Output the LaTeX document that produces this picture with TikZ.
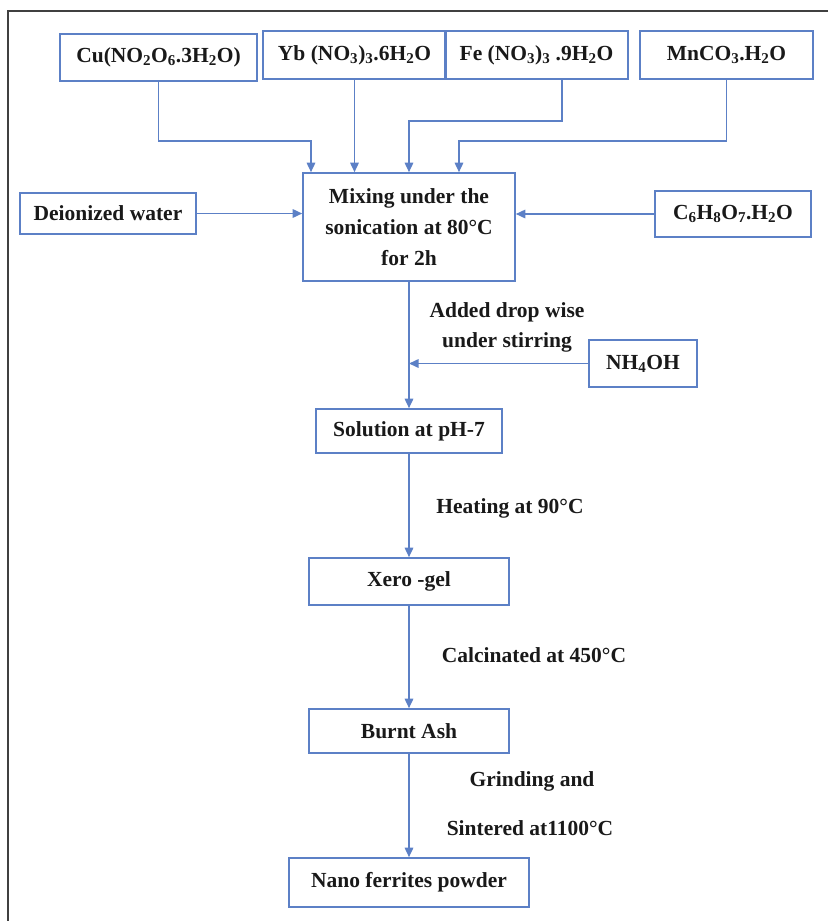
\documentclass[tikz,border=0pt]{standalone}
\usepackage{fontspec}
\setmainfont{Liberation Serif}
\usetikzlibrary{arrows.meta,calc}
\definecolor{flowblue}{RGB}{92,128,198}
\definecolor{ink}{RGB}{25,25,25}
\newcommand{\sbs}[1]{\textsubscript{#1}}
\begin{document}
\begin{tikzpicture}[x=1pt,y=-1pt,
  font=\fontsize{21.5}{31}\selectfont\bfseries,
  box/.style={draw=flowblue,line width=1.6pt,text=ink,inner sep=0pt,align=center},
  arr/.style={draw=flowblue,line width=1.6pt,-{Triangle[width=8.5pt,length=9.5pt]}},
  lbl/.style={text=ink,inner sep=0pt,align=center}]
\useasboundingbox (0,0) rectangle (828,921);
% frame
\draw[line width=1.8pt,draw=black!75] (828,11) -- (8,11) -- (8,921);

% reagents
\node[box,minimum width=197pt,minimum height=47pt] (cu) at (158.5,57.5) {Cu(NO\sbs{2}O\sbs{6}.3H\sbs{2}O)};
\node[box,minimum width=183pt,minimum height=48pt] (yb) at (354.5,55) {Yb (NO\sbs{3})\sbs{3}.6H\sbs{2}O};
\node[box,minimum width=183pt,minimum height=48pt] (fe) at (536.5,55) {Fe (NO\sbs{3})\sbs{3} .9H\sbs{2}O};
\node[box,minimum width=173pt,minimum height=48pt] (mn) at (726.5,55) {MnCO\sbs{3}.H\sbs{2}O};

\node[box,minimum width=212pt,minimum height=108pt] (mix) at (409,227) {Mixing under the\\sonication at 80°C\\for 2h};
\node[box,minimum width=176pt,minimum height=41pt] (di) at (108,213.5) {Deionized water};
\node[box,minimum width=156pt,minimum height=46pt] (cit) at (733,214) {C\sbs{6}H\sbs{8}O\sbs{7}.H\sbs{2}O};
\node[box,minimum width=108pt,minimum height=47pt] (nh) at (643,363.5) {NH\sbs{4}OH};

% process chain
\node[box,minimum width=186pt,minimum height=44pt] (sol) at (409,431) {Solution at pH-7};
\node[box,minimum width=200pt,minimum height=47pt] (xg) at (409,581.5) {Xero -gel};
\node[box,minimum width=200pt,minimum height=44pt] (ash) at (409,731) {Burnt Ash};
\node[box,minimum width=240pt,minimum height=49pt] (nano) at (409,882.5) {Nano ferrites  powder};

% step labels
\node[lbl] (l1a) at (507,312) {Added drop wise};
\node[lbl] (l1b) at (507,342) {under stirring};
\node[lbl] (l2) at (510,508) {Heating at 90°C};
\node[lbl] (l3) at (534,655) {Calcinated  at 450°C};
\node[lbl] (l4a) at (532,781) {Grinding and};
\node[lbl] (l4b) at (530,828) {Sintered at1100°C};

% connectors into the mixing step
\draw[arr] (cu.south) -- ++(0,59) -| ([xshift=-98pt]mix.north);
\draw[arr] (yb.south) -- (yb.south |- mix.north);
\draw[arr] ([xshift=25.5pt]fe.south) -- ++(0,41) -| (mix.north);
\draw[arr] (mn.south) -- ++(0,61) -| ([xshift=50pt]mix.north);
\draw[arr] (di.east) -- (di.east -| mix.west);
\draw[arr] (cit.west) -- (cit.west -| mix.east);

% main chain
\draw[arr] (mix.south) -- (sol.north);
\draw[arr] (nh.west) -- (nh.west -| mix.south);
\draw[arr] (sol.south) -- (xg.north);
\draw[arr] (xg.south) -- (ash.north);
\draw[arr] (ash.south) -- (nano.north);
\end{tikzpicture}
\end{document}
